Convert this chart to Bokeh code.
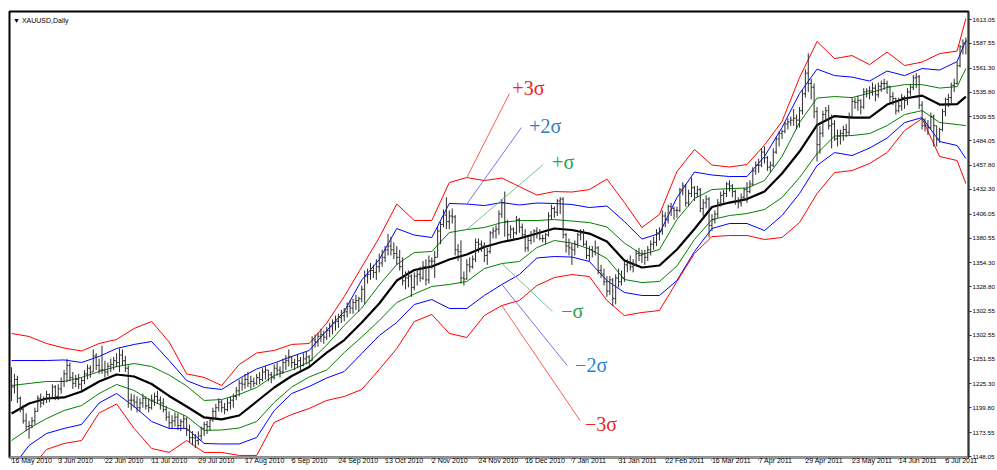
from bokeh.plotting import figure
from bokeh.models import Range1d, LinearAxis, FixedTicker, Label, Arrow
from bokeh.embed import file_html
from bokeh.resources import INLINE

# ---------------- data ----------------
date_labels = ["16 May 2010", "3 Jun 2010", "22 Jun 2010", "11 Jul 2010", "29 Jul 2010",
               "17 Aug 2010", "6 Sep 2010", "24 Sep 2010", "13 Oct 2010", "2 Nov 2010",
               "24 Nov 2010", "16 Dec 2010", "7 Jan 2011", "31 Jan 2011", "22 Feb 2011",
               "16 Mar 2011", "7 Apr 2011", "29 Apr 2011", "23 May 2011", "14 Jun 2011",
               "6 Jul 2011"]
date_label_bars = [0, 16, 32, 48, 64, 80, 96, 112, 128, 144, 160, 176, 192, 208, 224,
                   240, 256, 272, 288, 304, 320]

y_tick_values = [1148.05, 1173.55, 1199.80, 1225.30, 1251.55, 1277.05, 1302.55, 1328.80,
                 1354.30, 1380.55, 1406.05, 1432.30, 1457.80, 1484.05, 1509.55, 1535.80,
                 1561.30, 1587.55, 1613.05]
y_tick_labels = ["1148.05", "1173.55", "1199.80", "1225.30", "1251.55", "1302.55", "1302.55",
                 "1328.80", "1354.30", "1380.55", "1406.05", "1432.30", "1457.80", "1484.05",
                 "1509.55", "1535.80", "1561.30", "1587.55", "1613.05"]

bar_highs = [
    1243,1236,1234,1212,1203,1194,1186,1190,1200,1213,1215,1212,1218,1215,1225,1224,
    1225,1232,1240,1252,1248,1238,1235,1236,1232,1240,1246,1245,1262,1258,1252,1266,
    1250,1248,1252,1254,1258,1263,1262,1255,1245,1215,1214,1212,1210,1215,1212,1210,
    1214,1216,1218,1212,1210,1202,1196,1192,1195,1194,1188,1192,1190,1182,1175,1172,
    1175,1180,1185,1186,1190,1200,1204,1210,1208,1205,1210,1212,1215,1222,1230,1232,
    1236,1238,1234,1232,1236,1238,1242,1244,1240,1238,1246,1248,1244,1252,1256,1262,
    1255,1252,1256,1254,1258,1260,1256,1276,1278,1280,1284,1282,1286,1290,1294,1298,
    1300,1304,1306,1312,1314,1316,1320,1318,1330,1346,1348,1354,1352,1358,1364,1368,
    1372,1385,1382,1376,1372,1368,1360,1345,1346,1342,1344,1348,1350,1356,1358,1362,
    1360,1367,1393,1398,1411,1424,1410,1412,1405,1374,1378,1345,1358,1360,1362,1380,
    1380,1378,1376,1370,1388,1392,1394,1410,1422,1430,1400,1394,1392,1404,1402,1396,
    1390,1382,1388,1390,1392,1390,1384,1386,1408,1416,1414,1422,1424,1424,1386,1380,
    1375,1378,1386,1390,1390,1378,1372,1372,1378,1372,1352,1348,1340,1340,1338,1342,
    1348,1346,1356,1358,1362,1358,1368,1370,1368,1368,1372,1378,1382,1390,1392,1410,
    1408,1416,1418,1414,1414,1434,1440,1438,1432,1445,1436,1436,1434,1422,1426,1424,
    1406,1410,1422,1430,1432,1440,1442,1438,1432,1424,1428,1434,1440,1442,1456,1462,
    1465,1476,1478,1468,1462,1476,1488,1494,1496,1504,1508,1510,1518,1512,1520,1538,
    1560,1577,1550,1545,1520,1500,1516,1520,1522,1512,1506,1496,1496,1500,1502,1514,
    1530,1530,1532,1528,1540,1540,1542,1546,1544,1546,1548,1550,1548,1542,1536,1530,
    1530,1534,1532,1540,1544,1554,1556,1554,1526,1508,1506,1514,1512,1500,1498,1518,
    1530,1534,1546,1550,1568,1586,1592,1594]
bar_lows = [
    1207,1215,1205,1195,1183,1175,1167,1178,1182,1196,1200,1203,1205,1206,1210,1208,
    1208,1215,1222,1227,1228,1220,1222,1220,1218,1225,1230,1232,1238,1240,1236,1236,
    1232,1234,1238,1240,1243,1238,1245,1238,1200,1197,1200,1195,1196,1200,1198,1195,
    1198,1202,1204,1198,1195,1186,1178,1178,1180,1176,1175,1178,1170,1163,1160,1157,
    1160,1165,1170,1172,1176,1185,1188,1196,1195,1193,1196,1198,1200,1208,1212,1218,
    1220,1222,1220,1222,1224,1225,1228,1230,1228,1226,1230,1234,1232,1236,1240,1244,
    1242,1240,1242,1240,1244,1246,1244,1250,1264,1265,1270,1268,1272,1275,1278,1282,
    1285,1290,1292,1296,1300,1300,1304,1302,1312,1310,1332,1336,1338,1336,1344,1350,
    1355,1362,1362,1358,1352,1346,1330,1326,1328,1318,1325,1330,1334,1336,1330,1332,
    1348,1338,1360,1374,1392,1390,1390,1396,1362,1356,1332,1330,1336,1344,1348,1355,
    1365,1366,1355,1352,1364,1380,1380,1384,1402,1382,1378,1380,1378,1384,1386,1380,
    1366,1366,1374,1376,1380,1378,1376,1374,1382,1400,1402,1404,1406,1380,1365,1362,
    1352,1362,1370,1378,1372,1358,1356,1360,1362,1342,1338,1330,1318,1320,1308,1310,
    1328,1330,1334,1344,1346,1344,1350,1356,1354,1352,1356,1362,1368,1372,1378,1384,
    1392,1396,1404,1400,1402,1408,1426,1414,1414,1424,1420,1424,1408,1404,1412,1381,
    1388,1396,1402,1414,1418,1424,1430,1424,1416,1412,1414,1420,1418,1428,1436,1448,
    1450,1456,1460,1452,1450,1456,1470,1478,1486,1492,1496,1500,1500,1496,1498,1512,
    1530,1536,1528,1508,1462,1470,1488,1504,1496,1476,1484,1478,1480,1484,1488,1490,
    1508,1518,1516,1512,1518,1530,1528,1532,1526,1530,1536,1538,1534,1524,1522,1512,
    1514,1516,1518,1522,1532,1538,1540,1518,1496,1494,1490,1496,1478,1478,1482,1494,
    1510,1520,1524,1536,1544,1562,1576,1576]
bar_opens = [
    1228,1222,1230,1210,1198,1186,1180,1181,1186,1196,1210,1205,1209,1214,1210,1222,
    1212,1220,1228,1236,1245,1232,1226,1230,1225,1229,1236,1242,1238,1255,1245,1240,
    1240,1238,1244,1246,1250,1248,1256,1250,1242,1208,1208,1206,1200,1205,1210,1202,
    1200,1208,1212,1208,1205,1198,1190,1184,1186,1190,1181,1185,1188,1176,1168,1168,
    1165,1170,1178,1182,1180,1187,1196,1200,1206,1200,1198,1205,1208,1212,1218,1226,
    1225,1230,1226,1228,1226,1232,1230,1238,1240,1235,1232,1242,1240,1238,1248,1250,
    1254,1248,1246,1250,1245,1252,1254,1250,1272,1270,1276,1278,1275,1282,1286,1290,
    1292,1296,1298,1302,1308,1306,1312,1314,1316,1326,1340,1342,1346,1344,1350,1354,
    1360,1368,1372,1368,1364,1360,1350,1335,1338,1340,1328,1340,1342,1338,1350,1336,
    1356,1356,1360,1388,1395,1405,1398,1404,1403,1368,1366,1338,1337,1352,1350,1358,
    1376,1374,1372,1362,1366,1386,1388,1390,1406,1418,1398,1384,1390,1386,1400,1392,
    1384,1370,1378,1384,1388,1386,1380,1380,1384,1404,1412,1408,1420,1422,1384,1372,
    1370,1368,1374,1384,1386,1374,1362,1368,1366,1370,1346,1342,1334,1324,1336,1316,
    1338,1334,1338,1352,1354,1350,1352,1364,1362,1364,1360,1368,1374,1376,1386,1388,
    1404,1400,1414,1412,1410,1410,1432,1436,1418,1428,1434,1428,1432,1412,1418,1422,
    1394,1400,1406,1418,1426,1428,1438,1436,1430,1420,1418,1424,1432,1430,1438,1452,
    1458,1458,1472,1466,1456,1458,1472,1486,1492,1494,1502,1504,1506,1508,1506,1516,
    1534,1556,1545,1541,1515,1480,1492,1512,1516,1500,1502,1486,1489,1492,1496,1493,
    1510,1526,1525,1527,1520,1536,1537,1537,1540,1533,1542,1545,1545,1542,1531,1529,
    1516,1521,1530,1527,1536,1541,1551,1552,1522,1500,1500,1498,1510,1500,1486,1496,
    1515,1528,1530,1543,1545,1564,1584,1588]
bar_closes = [
    1222,1230,1210,1198,1186,1180,1181,1186,1196,1210,1205,1209,1214,1210,1222,1212,
    1220,1228,1236,1245,1232,1226,1230,1225,1229,1236,1242,1238,1255,1245,1240,1240,
    1238,1244,1246,1250,1248,1256,1250,1242,1208,1208,1206,1200,1205,1210,1202,1200,
    1208,1212,1208,1205,1198,1190,1184,1186,1190,1181,1185,1188,1176,1168,1168,1165,
    1170,1178,1182,1180,1187,1196,1200,1206,1200,1198,1205,1208,1212,1218,1226,1225,
    1230,1226,1228,1226,1232,1230,1238,1240,1235,1232,1242,1240,1238,1248,1250,1254,
    1248,1246,1250,1245,1252,1254,1250,1272,1270,1276,1278,1275,1282,1286,1290,1292,
    1296,1298,1302,1308,1306,1312,1314,1316,1326,1340,1342,1346,1344,1350,1354,1360,
    1368,1372,1368,1364,1360,1350,1335,1338,1340,1328,1340,1342,1338,1350,1336,1356,
    1356,1360,1388,1395,1405,1398,1404,1403,1368,1366,1338,1337,1352,1350,1358,1376,
    1374,1372,1362,1366,1386,1388,1390,1406,1418,1398,1384,1390,1386,1400,1392,1384,
    1370,1378,1384,1388,1386,1380,1380,1384,1404,1412,1408,1420,1422,1384,1372,1370,
    1368,1374,1384,1386,1374,1362,1368,1366,1370,1346,1342,1334,1324,1336,1316,1338,
    1334,1338,1352,1354,1350,1352,1364,1362,1364,1360,1368,1374,1376,1386,1388,1404,
    1400,1414,1412,1410,1410,1432,1436,1418,1428,1434,1428,1432,1412,1418,1422,1394,
    1400,1406,1418,1426,1428,1438,1436,1430,1420,1418,1424,1432,1430,1438,1452,1458,
    1458,1472,1466,1456,1458,1472,1486,1492,1494,1502,1504,1506,1508,1506,1516,1534,
    1556,1545,1541,1515,1480,1492,1512,1516,1500,1502,1486,1489,1492,1496,1493,1510,
    1526,1525,1527,1520,1536,1537,1537,1540,1533,1542,1545,1545,1542,1531,1529,1516,
    1521,1530,1527,1536,1541,1551,1552,1522,1500,1500,1498,1510,1500,1486,1496,1515,
    1528,1530,1543,1545,1564,1584,1588,1590]

# band readings (sampled every 6 bars, plus the last bar)
band_bars = [0, 6, 12, 18, 24, 30, 36, 42, 48, 54, 60, 66, 72, 78, 84, 90, 96, 102, 108, 114,
             120, 126, 132, 138, 144, 150, 156, 162, 168, 174, 180, 186, 192, 198, 204, 210,
             216, 222, 228, 234, 240, 246, 252, 258, 264, 270, 276, 282, 288, 294, 300, 306,
             312, 318, 324, 327]
ma_mid = [
    1193.9, 1204.5, 1209.8, 1210.9, 1217.3, 1227.9, 1235.3, 1233.2, 1225.2, 1212.5,
    1201.3, 1189.6, 1187.5, 1191.7, 1206.6, 1221.5, 1233.7, 1243.3, 1258.7, 1272.0,
    1290.7, 1310.9, 1335.3, 1346.5, 1350.2, 1357.7, 1363.0, 1371.0, 1376.3, 1380.0,
    1385.3, 1390.7, 1389.1, 1385.3, 1376.8, 1356.6, 1349.2, 1351.3, 1368.3, 1390.1,
    1413.5, 1418.3, 1422.0, 1430.0, 1449.2, 1472.6, 1500.8, 1510.3, 1508.7, 1508.7,
    1522.6, 1529.0, 1532.1, 1522.6, 1523.1, 1531.1]
plus_1s = [
    1223.6, 1225.8, 1227.9, 1227.9, 1232.2, 1238.5, 1243.8, 1247.0, 1243.8, 1234.8,
    1223.1, 1207.7, 1208.7, 1214.1, 1221.5, 1234.3, 1240.1, 1248.6, 1266.7, 1287.5,
    1306.1, 1330.6, 1352.4, 1365.1, 1366.2, 1386.4, 1389.6, 1391.7, 1397.0, 1399.2,
    1399.2, 1400.2, 1398.6, 1397.0, 1392.3, 1375.2, 1363.0, 1368.3, 1400.2, 1422.6,
    1432.1, 1433.2, 1433.7, 1441.7, 1467.3, 1503.4, 1529.5, 1531.1, 1530.0, 1534.8,
    1540.7, 1543.8, 1543.8, 1540.1, 1541.7, 1560.9]
plus_2s = [
    1250.2, 1250.2, 1250.2, 1250.8, 1248.1, 1254.5, 1263.0, 1267.3, 1270.4, 1250.2,
    1228.9, 1221.5, 1219.4, 1231.1, 1241.2, 1247.6, 1254.5, 1260.9, 1282.2, 1302.4,
    1335.9, 1357.7, 1390.7, 1383.7, 1381.1, 1417.3, 1416.7, 1415.1, 1418.3, 1415.7,
    1417.8, 1417.3, 1416.2, 1413.0, 1414.6, 1398.1, 1379.5, 1385.3, 1423.6, 1450.8,
    1447.6, 1446.0, 1446.0, 1467.3, 1498.1, 1534.3, 1560.3, 1553.4, 1551.8, 1547.6,
    1558.2, 1553.4, 1560.9, 1559.3, 1568.3, 1590.6]
plus_3s = [
    1279.0, 1275.8, 1268.3, 1263.5, 1260.3, 1268.3, 1272.6, 1284.3, 1291.7, 1269.9,
    1236.0, 1232.2, 1223.6, 1246.0, 1258.2, 1260.9, 1267.3, 1268.3, 1290.1, 1318.3,
    1349.7, 1381.1, 1416.7, 1399.2, 1399.2, 1439.6, 1444.9, 1441.7, 1444.4, 1435.3,
    1426.3, 1430.0, 1429.5, 1432.1, 1443.3, 1418.3, 1391.7, 1405.6, 1451.3, 1474.7,
    1458.2, 1456.1, 1458.7, 1479.5, 1504.5, 1551.3, 1589.6, 1571.5, 1574.7, 1565.1,
    1578.4, 1564.1, 1567.8, 1576.8, 1579.5, 1614.1]
minus_1s = [
    1165.1, 1177.9, 1188.5, 1197.0, 1202.3, 1215.1, 1224.7, 1218.3, 1207.2, 1199.2,
    1190.7, 1175.8, 1176.3, 1178.4, 1185.3, 1205.6, 1222.0, 1232.7, 1240.1, 1258.7,
    1275.2, 1292.8, 1311.9, 1321.0, 1329.0, 1331.1, 1334.3, 1348.1, 1353.4, 1355.6,
    1370.4, 1377.9, 1375.2, 1368.9, 1358.7, 1336.4, 1333.2, 1334.3, 1350.8, 1379.0,
    1400.2, 1404.5, 1406.6, 1410.9, 1423.6, 1444.9, 1470.4, 1489.1, 1489.6, 1491.7,
    1500.2, 1511.9, 1516.2, 1503.4, 1501.3, 1500.2]
minus_2s = [
    1135.3, 1159.8, 1172.6, 1177.9, 1182.2, 1205.0, 1215.1, 1201.3, 1185.3, 1177.9,
    1177.9, 1161.9, 1161.4, 1161.4, 1168.3, 1197.0, 1215.1, 1222.6, 1231.6, 1238.5,
    1257.7, 1276.8, 1290.7, 1309.8, 1315.1, 1305.6, 1305.6, 1319.4, 1331.1, 1341.7,
    1359.3, 1360.9, 1360.3, 1355.6, 1335.3, 1322.6, 1319.4, 1319.4, 1335.3, 1366.2,
    1390.7, 1396.0, 1396.0, 1388.5, 1404.5, 1427.9, 1457.7, 1471.5, 1468.3, 1476.3,
    1486.9, 1503.4, 1508.7, 1483.2, 1479.0, 1465.1]
minus_3s = [
    1106.6, 1133.2, 1155.6, 1161.9, 1165.1, 1194.4, 1203.9, 1177.9, 1156.6, 1152.4,
    1165.1, 1152.4, 1152.4, 1149.2, 1149.2, 1184.3, 1192.8, 1199.2, 1207.7, 1211.9,
    1219.4, 1240.7, 1263.0, 1291.7, 1299.2, 1279.0, 1274.7, 1298.1, 1308.7, 1314.1,
    1330.0, 1338.5, 1341.7, 1339.6, 1314.1, 1298.1, 1301.3, 1303.4, 1334.3, 1364.1,
    1382.1, 1383.2, 1383.2, 1379.0, 1381.1, 1397.0, 1427.9, 1450.2, 1452.4, 1459.8,
    1471.5, 1494.9, 1507.7, 1467.3, 1463.0, 1438.5]

# ---------------- figure ----------------
RED, BLUE, GREEN = "#ff0000", "#0000ff", "#008000"

p = figure(width=997, height=470, output_backend="svg", toolbar_location=None,
           x_range=Range1d(-0.7, 327.9), y_range=Range1d(1147.0, 1621.6),
           x_axis_location=None, y_axis_location=None,
           min_border_left=9, min_border_top=11, min_border_right=0, min_border_bottom=0)
p.grid.visible = False
p.background_fill_color = "white"
p.border_fill_color = "white"
p.outline_line_color = "black"
p.outline_line_width = 2

# bands
for arr, col in [(plus_3s, RED), (plus_2s, BLUE), (plus_1s, GREEN),
                 (minus_1s, GREEN), (minus_2s, BLUE), (minus_3s, RED)]:
    p.line(band_bars, arr, line_color=col, line_width=1)
p.line(band_bars, ma_mid, line_color="black", line_width=2.2)

# OHLC bars
xs = list(range(len(bar_closes)))
bar_col = "#2b2b2b"
p.segment(xs, bar_lows, xs, bar_highs, line_color=bar_col, line_width=1)
p.segment([x - 0.45 for x in xs], bar_opens, xs, bar_opens, line_color=bar_col, line_width=1)
p.segment(xs, bar_closes, [x + 0.45 for x in xs], bar_closes, line_color=bar_col, line_width=1)

# axes
xaxis = LinearAxis(ticker=FixedTicker(ticks=date_label_bars, minor_ticks=[]),
                   major_label_overrides={b: t for b, t in zip(date_label_bars, date_labels)})
xaxis.major_label_orientation = -0.0001   # tiny negative angle -> labels start at the tick
xaxis.major_label_text_font = "Liberation Sans"
xaxis.major_label_text_font_size = "7px"
xaxis.major_label_text_line_height = 0.6
xaxis.major_label_text_color = "black"
xaxis.major_label_standoff = 0
xaxis.major_tick_out = 3
xaxis.major_tick_in = 0
xaxis.minor_tick_line_color = None
xaxis.axis_line_color = "#9a9a9a"
xaxis.axis_line_width = 2
xaxis.major_tick_line_color = "#9a9a9a"
p.add_layout(xaxis, "below")

yaxis = LinearAxis(ticker=FixedTicker(ticks=y_tick_values, minor_ticks=[]),
                   major_label_overrides={v: t for v, t in zip(y_tick_values, y_tick_labels)})
yaxis.major_label_text_font = "Liberation Sans"
yaxis.major_label_text_font_size = "6.2px"
yaxis.major_label_text_color = "black"
yaxis.major_label_standoff = 1
yaxis.major_tick_out = 3
yaxis.major_tick_in = 0
yaxis.minor_tick_line_color = None
yaxis.axis_line_color = "#333333"
yaxis.major_tick_line_color = "#333333"
p.add_layout(yaxis, "right")

# title of the chart window
p.add_layout(Label(x=0.5, y=1612.0, text="\u25bc XAUUSD,Daily", text_font="Liberation Sans",
                   text_font_size="7px", text_baseline="middle", text_color="black"))

# sigma annotations: leader lines end on the bands
ann = [
    ("+3\u03c3", "#ee2222", "#ff4040", (177.1, 1540.6), (170.6, 1534.3), band_bars[26], plus_3s[26]),
    ("+2\u03c3", "#2b7fc4", "#5a5af0", (182.9, 1500.2), (174.7, 1498.1), band_bars[26], plus_2s[26]),
    ("+\u03c3", "#26a04e", "#5cb877", (189.0, 1461.9), (182.2, 1458.7), band_bars[26], plus_1s[26]),
    ("\u2212\u03c3", "#26a04e", "#5cb877", (192.1, 1302.4), (185.3, 1302.4), band_bars[28], minus_1s[28]),
    ("\u22122\u03c3", "#2b7fc4", "#5a5af0", (198.6, 1244.9), (190.4, 1244.9), band_bars[28], minus_2s[28]),
    ("\u22123\u03c3", "#ee2222", "#ff4040", (202.0, 1182.2), (194.8, 1186.4), band_bars[28], minus_3s[28]),
]
for text, tcol, lcol, (lx, ly), (sx, sy), ex, ey in ann:
    p.add_layout(Arrow(end=None, x_start=sx, y_start=sy, x_end=ex, y_end=ey,
                       line_color=lcol, line_width=1, line_alpha=0.85))
    p.add_layout(Label(x=lx, y=ly, text=text, text_font="Liberation Serif",
                       text_font_size="20px", text_color=tcol,
                       text_align="center", text_baseline="middle"))

open("out.html", "w").write(file_html(p, INLINE))
